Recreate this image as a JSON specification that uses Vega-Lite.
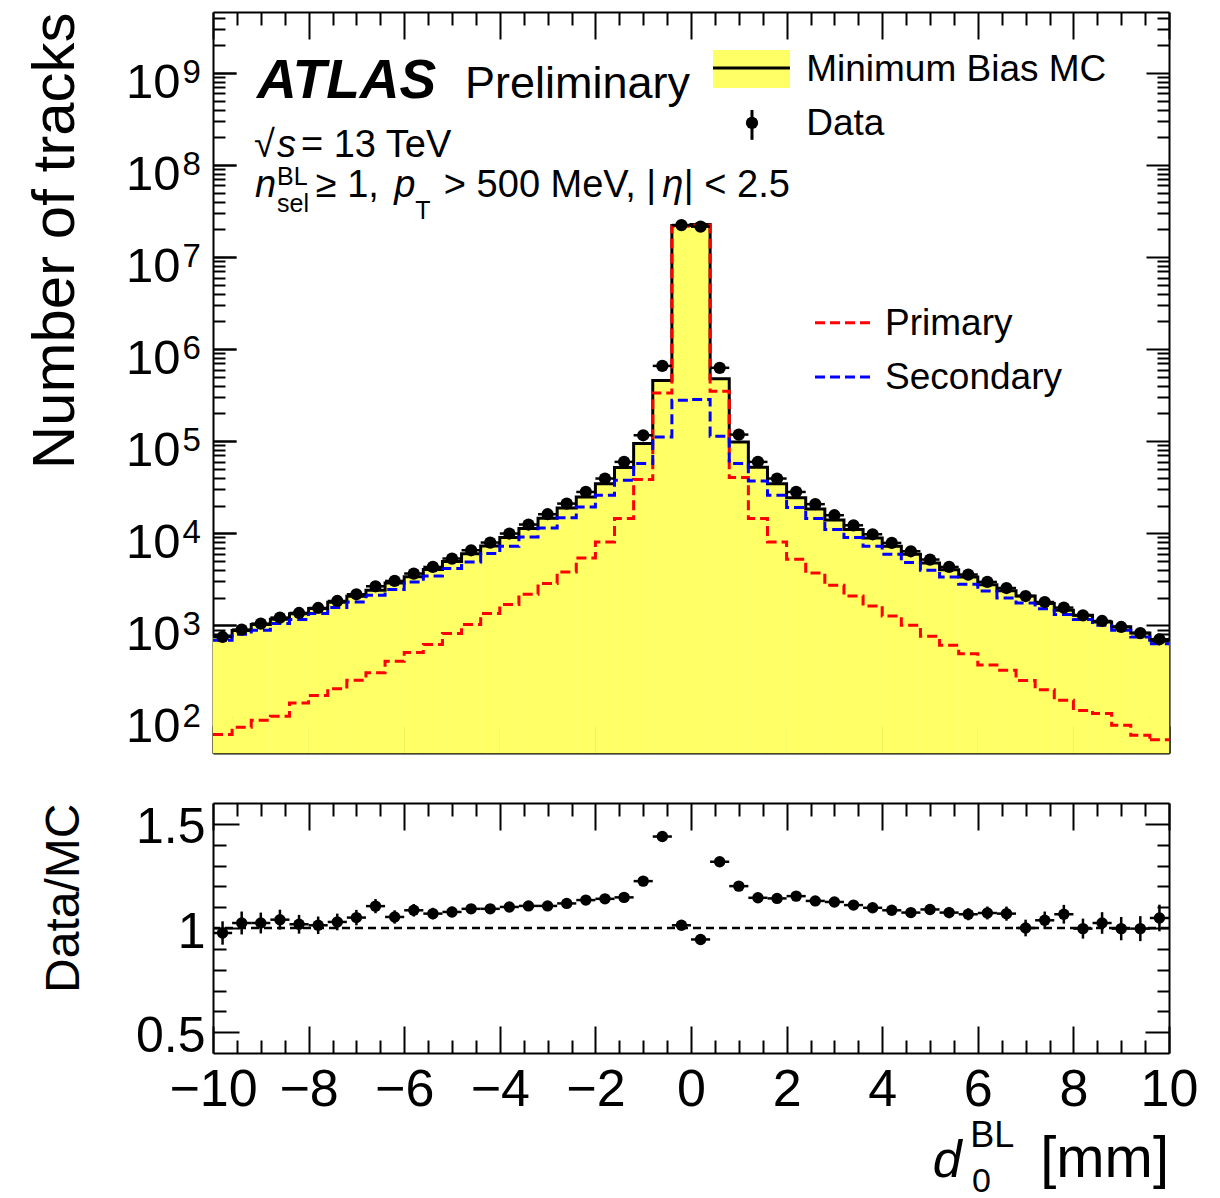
{
  "$schema": "https://vega.github.io/schema/vega-lite/v6.json",
  "background": "white",
  "padding": {"left": 25, "top": 11, "right": 2, "bottom": 0},
  "bounds": "flush",
  "spacing": 50,
  "datasets": {
    "bins": [
      {"lo": -10.0, "hi": -9.6, "x": -9.8, "data": 747, "mc": 765, "primary": 65, "secondary": 687, "ratio": 0.976, "rlo": 0.920, "rhi": 1.032},
      {"lo": -9.6, "hi": -9.2, "x": -9.4, "data": 898, "mc": 877, "primary": 78, "secondary": 798, "ratio": 1.024, "rlo": 0.969, "rhi": 1.079},
      {"lo": -9.2, "hi": -8.8, "x": -9.0, "data": 1043, "mc": 1019, "primary": 93, "secondary": 883, "ratio": 1.024, "rlo": 0.974, "rhi": 1.074},
      {"lo": -8.8, "hi": -8.4, "x": -8.6, "data": 1213, "mc": 1166, "primary": 103, "secondary": 1043, "ratio": 1.040, "rlo": 0.992, "rhi": 1.088},
      {"lo": -8.4, "hi": -8.0, "x": -8.2, "data": 1362, "mc": 1338, "primary": 143, "secondary": 1153, "ratio": 1.018, "rlo": 0.973, "rhi": 1.063},
      {"lo": -8.0, "hi": -7.6, "x": -7.8, "data": 1542, "mc": 1522, "primary": 173, "secondary": 1341, "ratio": 1.013, "rlo": 0.971, "rhi": 1.055},
      {"lo": -7.6, "hi": -7.2, "x": -7.4, "data": 1837, "mc": 1785, "primary": 205, "secondary": 1557, "ratio": 1.029, "rlo": 0.989, "rhi": 1.069},
      {"lo": -7.2, "hi": -6.8, "x": -7.0, "data": 2173, "mc": 2070, "primary": 253, "secondary": 1790, "ratio": 1.050, "rlo": 1.013, "rhi": 1.087},
      {"lo": -6.8, "hi": -6.4, "x": -6.6, "data": 2655, "mc": 2403, "primary": 306, "secondary": 2120, "ratio": 1.105, "rlo": 1.071, "rhi": 1.139},
      {"lo": -6.4, "hi": -6.0, "x": -6.2, "data": 3033, "mc": 2880, "primary": 406, "secondary": 2444, "ratio": 1.053, "rlo": 1.021, "rhi": 1.085},
      {"lo": -6.0, "hi": -5.6, "x": -5.8, "data": 3650, "mc": 3364, "primary": 505, "secondary": 2960, "ratio": 1.085, "rlo": 1.055, "rhi": 1.115},
      {"lo": -5.6, "hi": -5.2, "x": -5.4, "data": 4305, "mc": 4027, "primary": 617, "secondary": 3440, "ratio": 1.069, "rlo": 1.041, "rhi": 1.097},
      {"lo": -5.2, "hi": -4.8, "x": -5.0, "data": 5311, "mc": 4931, "primary": 813, "secondary": 4130, "ratio": 1.077, "rlo": 1.052, "rhi": 1.102},
      {"lo": -4.8, "hi": -4.4, "x": -4.6, "data": 6537, "mc": 5986, "primary": 1019, "secondary": 4880, "ratio": 1.092, "rlo": 1.070, "rhi": 1.114},
      {"lo": -4.4, "hi": -4.0, "x": -4.2, "data": 7926, "mc": 7258, "primary": 1341, "secondary": 6010, "ratio": 1.092, "rlo": 1.072, "rhi": 1.112},
      {"lo": -4.0, "hi": -3.6, "x": -3.8, "data": 9930, "mc": 9019, "primary": 1679, "secondary": 7220, "ratio": 1.101, "rlo": 1.083, "rhi": 1.119},
      {"lo": -3.6, "hi": -3.2, "x": -3.4, "data": 12440, "mc": 11248, "primary": 2173, "secondary": 9120, "ratio": 1.106, "rlo": 1.090, "rhi": 1.122},
      {"lo": -3.2, "hi": -2.8, "x": -3.0, "data": 16100, "mc": 14557, "primary": 2840, "secondary": 11400, "ratio": 1.106, "rlo": 1.092, "rhi": 1.120},
      {"lo": -2.8, "hi": -2.4, "x": -2.6, "data": 21000, "mc": 18784, "primary": 3800, "secondary": 14700, "ratio": 1.118, "rlo": 1.106, "rhi": 1.130},
      {"lo": -2.4, "hi": -2.0, "x": -2.2, "data": 28100, "mc": 24780, "primary": 5390, "secondary": 19300, "ratio": 1.134, "rlo": 1.124, "rhi": 1.144},
      {"lo": -2.0, "hi": -1.6, "x": -1.8, "data": 39300, "mc": 34474, "primary": 8050, "secondary": 25900, "ratio": 1.140, "rlo": 1.132, "rhi": 1.148},
      {"lo": -1.6, "hi": -1.2, "x": -1.4, "data": 59600, "mc": 51962, "primary": 14500, "secondary": 37700, "ratio": 1.147, "rlo": 1.140, "rhi": 1.154},
      {"lo": -1.2, "hi": -0.8, "x": -1.0, "data": 116000, "mc": 94694, "primary": 38400, "secondary": 57200, "ratio": 1.225, "rlo": 1.220, "rhi": 1.230},
      {"lo": -0.8, "hi": -0.4, "x": -0.6, "data": 658000, "mc": 457262, "primary": 335000, "secondary": 111000, "ratio": 1.439, "rlo": 1.436, "rhi": 1.442},
      {"lo": -0.4, "hi": 0.0, "x": -0.2, "data": 22300000, "mc": 22000000, "primary": 21700000, "secondary": 279000, "ratio": 1.013, "rlo": 1.012, "rhi": 1.014},
      {"lo": 0.0, "hi": 0.4, "x": 0.2, "data": 21400000, "mc": 22650000, "primary": 22300000, "secondary": 284000, "ratio": 0.945, "rlo": 0.944, "rhi": 0.946},
      {"lo": 0.4, "hi": 0.8, "x": 0.6, "data": 627000, "mc": 475720, "primary": 349000, "secondary": 113000, "ratio": 1.318, "rlo": 1.315, "rhi": 1.321},
      {"lo": 0.8, "hi": 1.2, "x": 1.0, "data": 118000, "mc": 98251, "primary": 40400, "secondary": 57200, "ratio": 1.201, "rlo": 1.196, "rhi": 1.206},
      {"lo": 1.2, "hi": 1.6, "x": 1.4, "data": 59600, "mc": 52052, "primary": 14500, "secondary": 37000, "ratio": 1.145, "rlo": 1.138, "rhi": 1.152},
      {"lo": 1.6, "hi": 2.0, "x": 1.8, "data": 39300, "mc": 34413, "primary": 8050, "secondary": 25900, "ratio": 1.142, "rlo": 1.134, "rhi": 1.150},
      {"lo": 2.0, "hi": 2.4, "x": 2.2, "data": 28100, "mc": 24371, "primary": 5210, "secondary": 19000, "ratio": 1.153, "rlo": 1.143, "rhi": 1.163},
      {"lo": 2.4, "hi": 2.8, "x": 2.6, "data": 20700, "mc": 18319, "primary": 3700, "secondary": 14500, "ratio": 1.130, "rlo": 1.118, "rhi": 1.142},
      {"lo": 2.8, "hi": 3.2, "x": 3.0, "data": 15700, "mc": 13956, "primary": 2720, "secondary": 11000, "ratio": 1.125, "rlo": 1.111, "rhi": 1.139},
      {"lo": 3.2, "hi": 3.6, "x": 3.4, "data": 12200, "mc": 10991, "primary": 2080, "secondary": 8980, "ratio": 1.110, "rlo": 1.094, "rhi": 1.126},
      {"lo": 3.6, "hi": 4.0, "x": 3.8, "data": 9750, "mc": 8888, "primary": 1620, "secondary": 7220, "ratio": 1.097, "rlo": 1.079, "rhi": 1.115},
      {"lo": 4.0, "hi": 4.4, "x": 4.2, "data": 7850, "mc": 7235, "primary": 1262, "secondary": 5910, "ratio": 1.085, "rlo": 1.065, "rhi": 1.105},
      {"lo": 4.4, "hi": 4.8, "x": 4.6, "data": 6370, "mc": 5931, "primary": 1000, "secondary": 4800, "ratio": 1.074, "rlo": 1.052, "rhi": 1.096},
      {"lo": 4.8, "hi": 5.2, "x": 5.0, "data": 5180, "mc": 4757, "primary": 759, "secondary": 3960, "ratio": 1.089, "rlo": 1.064, "rhi": 1.114},
      {"lo": 5.2, "hi": 5.6, "x": 5.4, "data": 4305, "mc": 4008, "primary": 606, "secondary": 3350, "ratio": 1.074, "rlo": 1.047, "rhi": 1.101},
      {"lo": 5.6, "hi": 6.0, "x": 5.8, "data": 3560, "mc": 3340, "primary": 492, "secondary": 2790, "ratio": 1.066, "rlo": 1.037, "rhi": 1.095},
      {"lo": 6.0, "hi": 6.4, "x": 6.2, "data": 2960, "mc": 2761, "primary": 371, "secondary": 2360, "ratio": 1.072, "rlo": 1.041, "rhi": 1.103},
      {"lo": 6.4, "hi": 6.8, "x": 6.6, "data": 2540, "mc": 2376, "primary": 324, "secondary": 1980, "ratio": 1.069, "rlo": 1.035, "rhi": 1.103},
      {"lo": 6.8, "hi": 7.2, "x": 7.0, "data": 2080, "mc": 2080, "primary": 252, "secondary": 1745, "ratio": 1.000, "rlo": 0.960, "rhi": 1.040},
      {"lo": 7.2, "hi": 7.6, "x": 7.4, "data": 1790, "mc": 1726, "primary": 200, "secondary": 1517, "ratio": 1.037, "rlo": 0.995, "rhi": 1.079},
      {"lo": 7.6, "hi": 8.0, "x": 7.8, "data": 1557, "mc": 1461, "primary": 153, "secondary": 1307, "ratio": 1.066, "rlo": 1.021, "rhi": 1.111},
      {"lo": 8.0, "hi": 8.4, "x": 8.2, "data": 1284, "mc": 1288, "primary": 119, "secondary": 1154, "ratio": 0.997, "rlo": 0.949, "rhi": 1.045},
      {"lo": 8.4, "hi": 8.8, "x": 8.6, "data": 1114, "mc": 1088, "primary": 110, "secondary": 1000, "ratio": 1.024, "rlo": 0.972, "rhi": 1.076},
      {"lo": 8.8, "hi": 9.2, "x": 9.0, "data": 959, "mc": 962, "primary": 82, "secondary": 883, "ratio": 0.997, "rlo": 0.941, "rhi": 1.053},
      {"lo": 9.2, "hi": 9.6, "x": 9.4, "data": 824, "mc": 826, "primary": 64, "secondary": 747, "ratio": 0.997, "rlo": 0.937, "rhi": 1.057},
      {"lo": 9.6, "hi": 10.0, "x": 9.8, "data": 705, "mc": 673, "primary": 57, "secondary": 632, "ratio": 1.048, "rlo": 0.984, "rhi": 1.112}
    ]
  },
  "vconcat": [
    {
      "width": 956,
      "height": 741,
      "data": {"name": "bins"},
      "resolve": {"axis": {"x": "independent", "y": "independent"}},
      "layer": [
        {
          "mark": {"type": "rect", "fill": "#ffff66", "stroke": "#ffff66", "strokeWidth": 0.6},
          "encoding": {
            "x": {"field": "lo", "type": "quantitative", "scale": {"domain": [-10, 10], "nice": false, "zero": false},
                  "axis": {"orient": "bottom", "values": [-10, -8, -6, -4, -2, 0, 2, 4, 6, 8, 10], "tickSize": -27, "labels": false, "title": null, "domain": true}},
            "x2": {"field": "hi"},
            "y": {"field": "mc", "type": "quantitative", "scale": {"type": "log", "domain": [41, 4600000000], "nice": false},
                  "axis": {"orient": "left", "values": [100, 1000, 10000, 100000, 1000000, 10000000, 100000000, 1000000000], "tickSize": -23, "labelExpr": "'10'", "labelFontSize": 49, "labelPadding": 56, "labelAlign": "right", "labelBaseline": "alphabetic", "labelOffset": 24, "domain": true,
                           "title": "Number of tracks", "titleFontSize": 60, "titleAngle": 270, "titleAlign": "right", "titleBaseline": "alphabetic", "titleX": -140, "titleY": 0, "titleLimit": 2000}},
            "y2": {"datum": 41}
          }
        },
        {
          "mark": {"type": "line", "interpolate": "step-after", "color": "black", "strokeWidth": 3},
          "encoding": {
            "x": {"field": "lo", "type": "quantitative", "scale": {"domain": [-10, 10], "nice": false, "zero": false},
                  "axis": {"orient": "top", "values": [-10, -8, -6, -4, -2, 0, 2, 4, 6, 8, 10], "tickSize": -27, "labels": false, "title": null, "domain": true}},
            "y": {"field": "mc", "type": "quantitative", "scale": {"type": "log", "domain": [41, 4600000000], "nice": false},
                  "axis": {"orient": "right", "values": [100, 1000, 10000, 100000, 1000000, 10000000, 100000000, 1000000000], "tickSize": -23, "labels": false, "title": null, "domain": true}}
          }
        },
        {
          "transform": [{"filter": "datum.lo > 9.5"}],
          "mark": {"type": "rule", "color": "black", "strokeWidth": 3},
          "encoding": {
            "x": {"field": "lo", "type": "quantitative", "scale": {"domain": [-10, 10], "nice": false, "zero": false}, "axis": null},
            "x2": {"field": "hi"},
            "y": {"field": "mc", "type": "quantitative", "scale": {"type": "log", "domain": [41, 4600000000], "nice": false}, "axis": null}
          }
        },
        {
          "mark": {"type": "line", "interpolate": "step-after", "color": "#ff0000", "strokeWidth": 3, "strokeDash": [10, 5]},
          "encoding": {
            "x": {"field": "lo", "type": "quantitative", "scale": {"domain": [-10, 10], "nice": false, "zero": false},
                  "axis": {"orient": "bottom", "values": [-9.5, -9, -8.5, -7.5, -7, -6.5, -5.5, -5, -4.5, -3.5, -3, -2.5, -1.5, -1, -0.5, 0.5, 1, 1.5, 2.5, 3, 3.5, 4.5, 5, 5.5, 6.5, 7, 7.5, 8.5, 9, 9.5], "tickSize": -13, "labels": false, "title": null, "domain": false}},
            "y": {"field": "primary", "type": "quantitative", "scale": {"type": "log", "domain": [41, 4600000000], "nice": false},
                  "axis": {"orient": "left", "values": [100, 1000, 10000, 100000, 1000000, 10000000, 100000000, 1000000000], "tickSize": -23, "labelExpr": "'' + round(log(datum.value) / LN10)", "labelFontSize": 33, "labelPadding": 54, "labelAlign": "left", "labelBaseline": "alphabetic", "labelOffset": 9, "title": null, "domain": false}}
          }
        },
        {
          "transform": [{"filter": "datum.lo > 9.5"}],
          "mark": {"type": "rule", "color": "#ff0000", "strokeWidth": 3, "strokeDash": [10, 5]},
          "encoding": {
            "x": {"field": "lo", "type": "quantitative", "scale": {"domain": [-10, 10], "nice": false, "zero": false}, "axis": null},
            "x2": {"field": "hi"},
            "y": {"field": "primary", "type": "quantitative", "scale": {"type": "log", "domain": [41, 4600000000], "nice": false}, "axis": null}
          }
        },
        {
          "mark": {"type": "line", "interpolate": "step-after", "color": "#0000ff", "strokeWidth": 3, "strokeDash": [10, 5]},
          "encoding": {
            "x": {"field": "lo", "type": "quantitative", "scale": {"domain": [-10, 10], "nice": false, "zero": false},
                  "axis": {"orient": "top", "values": [-9.5, -9, -8.5, -7.5, -7, -6.5, -5.5, -5, -4.5, -3.5, -3, -2.5, -1.5, -1, -0.5, 0.5, 1, 1.5, 2.5, 3, 3.5, 4.5, 5, 5.5, 6.5, 7, 7.5, 8.5, 9, 9.5], "tickSize": -13, "labels": false, "title": null, "domain": false}},
            "y": {"field": "secondary", "type": "quantitative", "scale": {"type": "log", "domain": [41, 4600000000], "nice": false},
                  "axis": {"orient": "left", "values": [50, 60, 70, 80, 90, 200, 300, 400, 500, 600, 700, 800, 900, 2000, 3000, 4000, 5000, 6000, 7000, 8000, 9000, 20000, 30000, 40000, 50000, 60000, 70000, 80000, 90000, 200000, 300000, 400000, 500000, 600000, 700000, 800000, 900000, 2000000, 3000000, 4000000, 5000000, 6000000, 7000000, 8000000, 9000000, 20000000, 30000000, 40000000, 50000000, 60000000, 70000000, 80000000, 90000000, 200000000, 300000000, 400000000, 500000000, 600000000, 700000000, 800000000, 900000000, 2000000000, 3000000000, 4000000000], "tickSize": -12, "labels": false, "title": null, "domain": false}}
          }
        },
        {
          "transform": [{"filter": "datum.lo > 9.5"}],
          "mark": {"type": "rule", "color": "#0000ff", "strokeWidth": 3, "strokeDash": [10, 5]},
          "encoding": {
            "x": {"field": "lo", "type": "quantitative", "scale": {"domain": [-10, 10], "nice": false, "zero": false}, "axis": null},
            "x2": {"field": "hi"},
            "y": {"field": "secondary", "type": "quantitative", "scale": {"type": "log", "domain": [41, 4600000000], "nice": false}, "axis": null}
          }
        },
        {
          "mark": {"type": "rule", "color": "black", "strokeWidth": 2.5},
          "encoding": {
            "x": {"field": "lo", "type": "quantitative", "scale": {"domain": [-10, 10], "nice": false, "zero": false}, "axis": null},
            "x2": {"field": "hi"},
            "y": {"field": "data", "type": "quantitative", "scale": {"type": "log", "domain": [41, 4600000000], "nice": false}, "axis": null}
          }
        },
        {
          "mark": {"type": "point", "shape": "circle", "filled": true, "color": "black", "opacity": 1, "size": 150},
          "encoding": {
            "x": {"field": "x", "type": "quantitative", "scale": {"domain": [-10, 10], "nice": false, "zero": false}, "axis": null},
            "y": {"field": "data", "type": "quantitative", "scale": {"type": "log", "domain": [41, 4600000000], "nice": false},
                  "axis": {"orient": "right", "values": [50, 60, 70, 80, 90, 200, 300, 400, 500, 600, 700, 800, 900, 2000, 3000, 4000, 5000, 6000, 7000, 8000, 9000, 20000, 30000, 40000, 50000, 60000, 70000, 80000, 90000, 200000, 300000, 400000, 500000, 600000, 700000, 800000, 900000, 2000000, 3000000, 4000000, 5000000, 6000000, 7000000, 8000000, 9000000, 20000000, 30000000, 40000000, 50000000, 60000000, 70000000, 80000000, 90000000, 200000000, 300000000, 400000000, 500000000, 600000000, 700000000, 800000000, 900000000, 2000000000, 3000000000, 4000000000], "tickSize": -12, "labels": false, "title": null, "domain": false}}
          }
        },
        {
          "data": {"values": [{}]},
          "layer": [
            {"mark": {"type": "text", "text": "ATLAS", "fontSize": 55, "fontWeight": "bold", "fontStyle": "italic", "align": "left", "baseline": "alphabetic"},
             "encoding": {"x": {"datum": -9.08, "type": "quantitative", "scale": {"domain": [-10, 10], "nice": false, "zero": false}, "axis": null},
                          "y": {"datum": 536000000, "type": "quantitative", "scale": {"type": "log", "domain": [41, 4600000000], "nice": false}, "axis": null}}},
            {"mark": {"type": "text", "text": "Preliminary", "fontSize": 45, "align": "left", "baseline": "alphabetic"},
             "encoding": {"x": {"datum": -4.73, "type": "quantitative", "scale": {"domain": [-10, 10], "nice": false, "zero": false}, "axis": null},
                          "y": {"datum": 536000000, "type": "quantitative", "scale": {"type": "log", "domain": [41, 4600000000], "nice": false}, "axis": null}}},
            {"mark": {"type": "text", "text": "√", "fontSize": 38, "align": "left", "baseline": "alphabetic"},
             "encoding": {"x": {"datum": -9.14, "type": "quantitative", "scale": {"domain": [-10, 10], "nice": false, "zero": false}, "axis": null},
                          "y": {"datum": 122000000, "type": "quantitative", "scale": {"type": "log", "domain": [41, 4600000000], "nice": false}, "axis": null}}},
            {"mark": {"type": "text", "text": "s", "fontSize": 38, "fontStyle": "italic", "align": "left", "baseline": "alphabetic"},
             "encoding": {"x": {"datum": -8.66, "type": "quantitative", "scale": {"domain": [-10, 10], "nice": false, "zero": false}, "axis": null},
                          "y": {"datum": 122000000, "type": "quantitative", "scale": {"type": "log", "domain": [41, 4600000000], "nice": false}, "axis": null}}},
            {"mark": {"type": "text", "text": "= 13 TeV", "fontSize": 38, "align": "left", "baseline": "alphabetic"},
             "encoding": {"x": {"datum": -8.16, "type": "quantitative", "scale": {"domain": [-10, 10], "nice": false, "zero": false}, "axis": null},
                          "y": {"datum": 122000000, "type": "quantitative", "scale": {"type": "log", "domain": [41, 4600000000], "nice": false}, "axis": null}}},
            {"mark": {"type": "text", "text": "n", "fontSize": 38, "fontStyle": "italic", "align": "left", "baseline": "alphabetic"},
             "encoding": {"x": {"datum": -9.12, "type": "quantitative", "scale": {"domain": [-10, 10], "nice": false, "zero": false}, "axis": null},
                          "y": {"datum": 45000000, "type": "quantitative", "scale": {"type": "log", "domain": [41, 4600000000], "nice": false}, "axis": null}}},
            {"mark": {"type": "text", "text": "BL", "fontSize": 25, "align": "left", "baseline": "alphabetic"},
             "encoding": {"x": {"datum": -8.66, "type": "quantitative", "scale": {"domain": [-10, 10], "nice": false, "zero": false}, "axis": null},
                          "y": {"datum": 60800000, "type": "quantitative", "scale": {"type": "log", "domain": [41, 4600000000], "nice": false}, "axis": null}}},
            {"mark": {"type": "text", "text": "sel", "fontSize": 25, "align": "left", "baseline": "alphabetic"},
             "encoding": {"x": {"datum": -8.66, "type": "quantitative", "scale": {"domain": [-10, 10], "nice": false, "zero": false}, "axis": null},
                          "y": {"datum": 31000000, "type": "quantitative", "scale": {"type": "log", "domain": [41, 4600000000], "nice": false}, "axis": null}}},
            {"mark": {"type": "text", "text": "≥ 1,", "fontSize": 38, "align": "left", "baseline": "alphabetic"},
             "encoding": {"x": {"datum": -7.85, "type": "quantitative", "scale": {"domain": [-10, 10], "nice": false, "zero": false}, "axis": null},
                          "y": {"datum": 45000000, "type": "quantitative", "scale": {"type": "log", "domain": [41, 4600000000], "nice": false}, "axis": null}}},
            {"mark": {"type": "text", "text": "p", "fontSize": 38, "fontStyle": "italic", "align": "left", "baseline": "alphabetic"},
             "encoding": {"x": {"datum": -6.21, "type": "quantitative", "scale": {"domain": [-10, 10], "nice": false, "zero": false}, "axis": null},
                          "y": {"datum": 45000000, "type": "quantitative", "scale": {"type": "log", "domain": [41, 4600000000], "nice": false}, "axis": null}}},
            {"mark": {"type": "text", "text": "T", "fontSize": 25, "align": "left", "baseline": "alphabetic"},
             "encoding": {"x": {"datum": -5.77, "type": "quantitative", "scale": {"domain": [-10, 10], "nice": false, "zero": false}, "axis": null},
                          "y": {"datum": 26000000, "type": "quantitative", "scale": {"type": "log", "domain": [41, 4600000000], "nice": false}, "axis": null}}},
            {"mark": {"type": "text", "text": "> 500 MeV, |", "fontSize": 38, "align": "left", "baseline": "alphabetic"},
             "encoding": {"x": {"datum": -5.17, "type": "quantitative", "scale": {"domain": [-10, 10], "nice": false, "zero": false}, "axis": null},
                          "y": {"datum": 45000000, "type": "quantitative", "scale": {"type": "log", "domain": [41, 4600000000], "nice": false}, "axis": null}}},
            {"mark": {"type": "text", "text": "η", "fontSize": 38, "fontStyle": "italic", "align": "left", "baseline": "alphabetic"},
             "encoding": {"x": {"datum": -0.6, "type": "quantitative", "scale": {"domain": [-10, 10], "nice": false, "zero": false}, "axis": null},
                          "y": {"datum": 45000000, "type": "quantitative", "scale": {"type": "log", "domain": [41, 4600000000], "nice": false}, "axis": null}}},
            {"mark": {"type": "text", "text": "| < 2.5", "fontSize": 38, "align": "left", "baseline": "alphabetic"},
             "encoding": {"x": {"datum": -0.15, "type": "quantitative", "scale": {"domain": [-10, 10], "nice": false, "zero": false}, "axis": null},
                          "y": {"datum": 45000000, "type": "quantitative", "scale": {"type": "log", "domain": [41, 4600000000], "nice": false}, "axis": null}}},
            {"mark": {"type": "rect", "fill": "#ffff66"},
             "encoding": {"x": {"datum": 0.46, "type": "quantitative", "scale": {"domain": [-10, 10], "nice": false, "zero": false}, "axis": null},
                          "x2": {"datum": 2.07},
                          "y": {"datum": 1780000000, "type": "quantitative", "scale": {"type": "log", "domain": [41, 4600000000], "nice": false}, "axis": null},
                          "y2": {"datum": 689000000}}},
            {"mark": {"type": "rule", "color": "black", "strokeWidth": 3},
             "encoding": {"x": {"datum": 0.46, "type": "quantitative", "scale": {"domain": [-10, 10], "nice": false, "zero": false}, "axis": null},
                          "x2": {"datum": 2.07},
                          "y": {"datum": 1135000000, "type": "quantitative", "scale": {"type": "log", "domain": [41, 4600000000], "nice": false}, "axis": null}}},
            {"mark": {"type": "text", "text": "Minimum Bias MC", "fontSize": 37, "align": "left", "baseline": "alphabetic"},
             "encoding": {"x": {"datum": 2.41, "type": "quantitative", "scale": {"domain": [-10, 10], "nice": false, "zero": false}, "axis": null},
                          "y": {"datum": 820000000, "type": "quantitative", "scale": {"type": "log", "domain": [41, 4600000000], "nice": false}, "axis": null}}},
            {"mark": {"type": "rule", "color": "black", "strokeWidth": 3},
             "encoding": {"x": {"datum": 1.276, "type": "quantitative", "scale": {"domain": [-10, 10], "nice": false, "zero": false}, "axis": null},
                          "y": {"datum": 397000000, "type": "quantitative", "scale": {"type": "log", "domain": [41, 4600000000], "nice": false}, "axis": null},
                          "y2": {"datum": 188000000}}},
            {"mark": {"type": "point", "shape": "circle", "filled": true, "color": "black", "opacity": 1, "size": 150},
             "encoding": {"x": {"datum": 1.276, "type": "quantitative", "scale": {"domain": [-10, 10], "nice": false, "zero": false}, "axis": null},
                          "y": {"datum": 287000000, "type": "quantitative", "scale": {"type": "log", "domain": [41, 4600000000], "nice": false}, "axis": null}}},
            {"mark": {"type": "text", "text": "Data", "fontSize": 37, "align": "left", "baseline": "alphabetic"},
             "encoding": {"x": {"datum": 2.41, "type": "quantitative", "scale": {"domain": [-10, 10], "nice": false, "zero": false}, "axis": null},
                          "y": {"datum": 212000000, "type": "quantitative", "scale": {"type": "log", "domain": [41, 4600000000], "nice": false}, "axis": null}}},
            {"mark": {"type": "rule", "color": "#ff0000", "strokeWidth": 3, "strokeDash": [10, 5]},
             "encoding": {"x": {"datum": 2.594, "type": "quantitative", "scale": {"domain": [-10, 10], "nice": false, "zero": false}, "axis": null},
                          "x2": {"datum": 3.849},
                          "y": {"datum": 1930000, "type": "quantitative", "scale": {"type": "log", "domain": [41, 4600000000], "nice": false}, "axis": null}}},
            {"mark": {"type": "text", "text": "Primary", "fontSize": 37, "align": "left", "baseline": "alphabetic"},
             "encoding": {"x": {"datum": 4.06, "type": "quantitative", "scale": {"domain": [-10, 10], "nice": false, "zero": false}, "axis": null},
                          "y": {"datum": 1430000, "type": "quantitative", "scale": {"type": "log", "domain": [41, 4600000000], "nice": false}, "axis": null}}},
            {"mark": {"type": "rule", "color": "#0000ff", "strokeWidth": 3, "strokeDash": [10, 5]},
             "encoding": {"x": {"datum": 2.594, "type": "quantitative", "scale": {"domain": [-10, 10], "nice": false, "zero": false}, "axis": null},
                          "x2": {"datum": 3.849},
                          "y": {"datum": 499000, "type": "quantitative", "scale": {"type": "log", "domain": [41, 4600000000], "nice": false}, "axis": null}}},
            {"mark": {"type": "text", "text": "Secondary", "fontSize": 37, "align": "left", "baseline": "alphabetic"},
             "encoding": {"x": {"datum": 4.06, "type": "quantitative", "scale": {"domain": [-10, 10], "nice": false, "zero": false}, "axis": null},
                          "y": {"datum": 370000, "type": "quantitative", "scale": {"type": "log", "domain": [41, 4600000000], "nice": false}, "axis": null}}}
          ]
        }
      ]
    },
    {
      "width": 956,
      "height": 250,
      "data": {"name": "bins"},
      "resolve": {"axis": {"x": "independent", "y": "independent"}},
      "layer": [
        {
          "data": {"values": [{}]},
          "mark": {"type": "rule", "color": "black", "strokeWidth": 2.5, "strokeDash": [8, 5]},
          "encoding": {
            "y": {"datum": 1, "type": "quantitative", "scale": {"domain": [0.4, 1.6], "nice": false, "zero": false}, "axis": null}
          }
        },
        {
          "mark": {"type": "rule", "color": "black", "strokeWidth": 2.5},
          "encoding": {
            "x": {"field": "lo", "type": "quantitative", "scale": {"domain": [-10, 10], "nice": false, "zero": false},
                  "axis": {"orient": "bottom", "values": [-10, -8, -6, -4, -2, 0, 2, 4, 6, 8, 10], "tickSize": -27, "labelFontSize": 52, "labelPadding": 79, "labelBaseline": "alphabetic", "title": null, "domain": true}},
            "x2": {"field": "hi"},
            "y": {"field": "ratio", "type": "quantitative", "scale": {"domain": [0.4, 1.6], "nice": false, "zero": false},
                  "axis": {"orient": "left", "values": [0.5, 1, 1.5], "format": "~g", "tickSize": -26, "labelFontSize": 50, "labelPadding": 34, "labelAlign": "right", "labelBaseline": "alphabetic", "labelOffset": 19, "domain": true,
                           "title": "Data/MC", "titleFontSize": 48, "titleAngle": 270, "titleAlign": "right", "titleBaseline": "alphabetic", "titleX": -135, "titleY": 0, "titleLimit": 2000}}
          }
        },
        {
          "mark": {"type": "rule", "color": "black", "strokeWidth": 2.5},
          "encoding": {
            "x": {"field": "x", "type": "quantitative", "scale": {"domain": [-10, 10], "nice": false, "zero": false},
                  "axis": {"orient": "bottom", "values": [-9.5, -9, -8.5, -7.5, -7, -6.5, -5.5, -5, -4.5, -3.5, -3, -2.5, -1.5, -1, -0.5, 0.5, 1, 1.5, 2.5, 3, 3.5, 4.5, 5, 5.5, 6.5, 7, 7.5, 8.5, 9, 9.5], "tickSize": -13, "labels": false, "title": null, "domain": false}},
            "y": {"field": "rlo", "type": "quantitative", "scale": {"domain": [0.4, 1.6], "nice": false, "zero": false},
                  "axis": {"orient": "left", "values": [0.6, 0.7, 0.8, 0.9, 1.1, 1.2, 1.3, 1.4], "tickSize": -13, "labels": false, "title": null, "domain": false}},
            "y2": {"field": "rhi"}
          }
        },
        {
          "mark": {"type": "point", "shape": "circle", "filled": true, "color": "black", "opacity": 1, "size": 130},
          "encoding": {
            "x": {"field": "x", "type": "quantitative", "scale": {"domain": [-10, 10], "nice": false, "zero": false},
                  "axis": {"orient": "top", "values": [-10, -8, -6, -4, -2, 0, 2, 4, 6, 8, 10], "tickSize": -27, "labels": false, "title": null, "domain": true}},
            "y": {"field": "ratio", "type": "quantitative", "scale": {"domain": [0.4, 1.6], "nice": false, "zero": false},
                  "axis": {"orient": "right", "values": [0.5, 1, 1.5], "tickSize": -24, "labels": false, "title": null, "domain": true}}
          }
        },
        {
          "mark": {"type": "point", "opacity": 0, "size": 1},
          "encoding": {
            "x": {"field": "x", "type": "quantitative", "scale": {"domain": [-10, 10], "nice": false, "zero": false},
                  "axis": {"orient": "top", "values": [-9.5, -9, -8.5, -7.5, -7, -6.5, -5.5, -5, -4.5, -3.5, -3, -2.5, -1.5, -1, -0.5, 0.5, 1, 1.5, 2.5, 3, 3.5, 4.5, 5, 5.5, 6.5, 7, 7.5, 8.5, 9, 9.5], "tickSize": -13, "labels": false, "title": null, "domain": false}},
            "y": {"field": "ratio", "type": "quantitative", "scale": {"domain": [0.4, 1.6], "nice": false, "zero": false},
                  "axis": {"orient": "right", "values": [0.6, 0.7, 0.8, 0.9, 1.1, 1.2, 1.3, 1.4], "tickSize": -12, "labels": false, "title": null, "domain": false}}
          }
        },
        {
          "data": {"values": [{}]},
          "layer": [
            {"mark": {"type": "text", "text": "d", "fontSize": 52, "fontStyle": "italic", "align": "left", "baseline": "alphabetic"},
             "encoding": {"x": {"datum": 5.06, "type": "quantitative", "scale": {"domain": [-10, 10], "nice": false, "zero": false}, "axis": null},
                          "y": {"datum": -0.195, "type": "quantitative", "scale": {"domain": [0.4, 1.6], "nice": false, "zero": false}, "axis": null}}},
            {"mark": {"type": "text", "text": "BL", "fontSize": 36, "align": "left", "baseline": "alphabetic"},
             "encoding": {"x": {"datum": 5.84, "type": "quantitative", "scale": {"domain": [-10, 10], "nice": false, "zero": false}, "axis": null},
                          "y": {"datum": -0.05, "type": "quantitative", "scale": {"domain": [0.4, 1.6], "nice": false, "zero": false}, "axis": null}}},
            {"mark": {"type": "text", "text": "0", "fontSize": 34, "align": "left", "baseline": "alphabetic"},
             "encoding": {"x": {"datum": 5.88, "type": "quantitative", "scale": {"domain": [-10, 10], "nice": false, "zero": false}, "axis": null},
                          "y": {"datum": -0.268, "type": "quantitative", "scale": {"domain": [0.4, 1.6], "nice": false, "zero": false}, "axis": null}}},
            {"mark": {"type": "text", "text": "[mm]", "fontSize": 58, "align": "right", "baseline": "alphabetic"},
             "encoding": {"x": {"datum": 10, "type": "quantitative", "scale": {"domain": [-10, 10], "nice": false, "zero": false}, "axis": null},
                          "y": {"datum": -0.195, "type": "quantitative", "scale": {"domain": [0.4, 1.6], "nice": false, "zero": false}, "axis": null}}}
          ]
        }
      ]
    }
  ],
  "config": {
    "view": {"stroke": null},
    "axis": {"grid": false, "zindex": 1, "tickColor": "black", "tickWidth": 2, "domainColor": "black", "domainWidth": 2,
             "labelFont": "Liberation Sans", "labelColor": "black", "titleFont": "Liberation Sans", "titleColor": "black", "titleFontWeight": "normal",
             "labelFlush": false, "labelOverlap": false, "labelBound": false},
    "text": {"font": "Liberation Sans", "color": "black"}
  }
}
